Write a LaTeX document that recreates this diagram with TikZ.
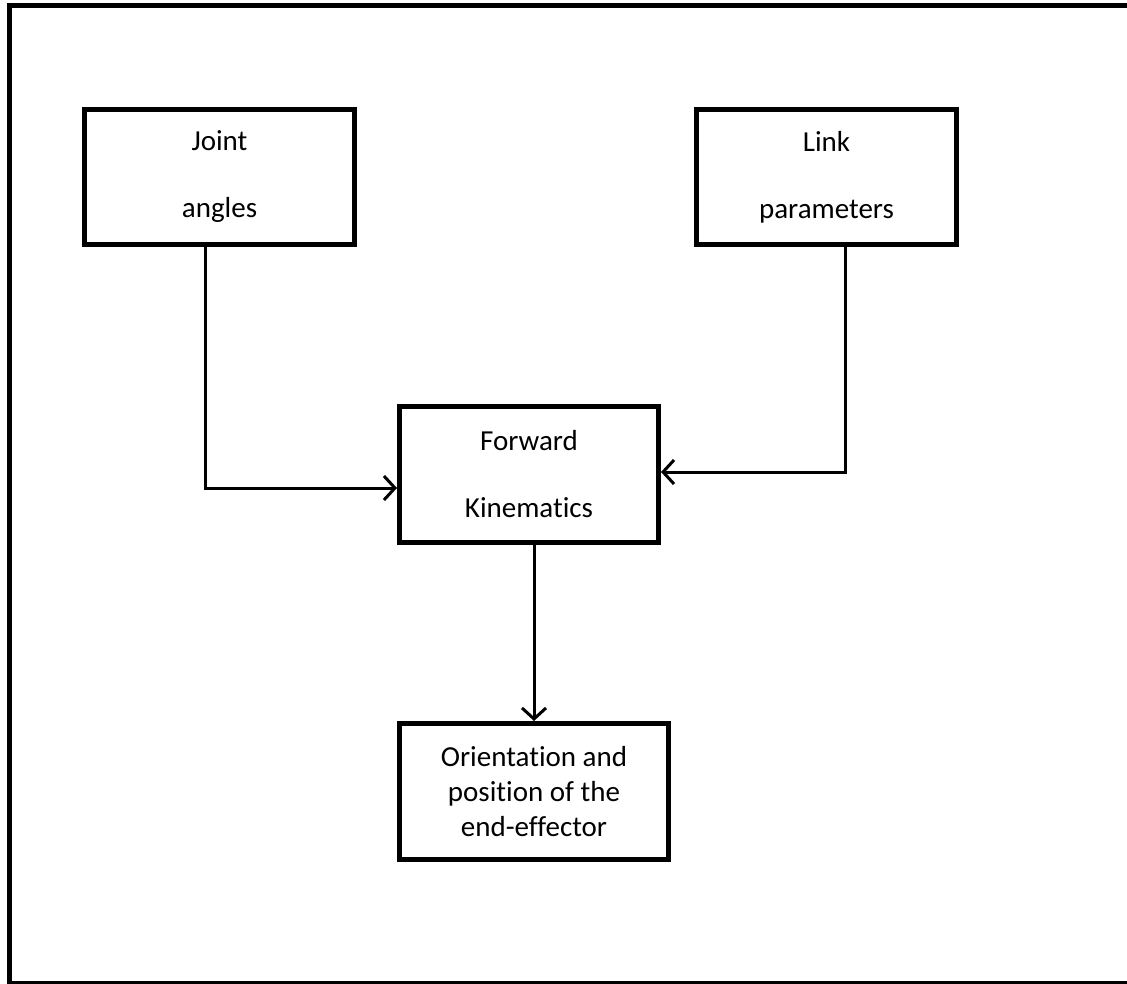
\documentclass[tikz,border=0pt]{standalone}
\usepackage{fontspec}
\setmainfont[Ligatures={NoCommon,NoRare,NoContextual}]{Carlito}
\usetikzlibrary{arrows.meta}
\begin{document}
\begin{tikzpicture}[x=1pt,y=-1pt,
  block/.style={draw=black, line width=5pt, align=center, inner sep=0pt},
  twoline/.style={block, font=\fontsize{29}{67}\selectfont},
  threeline/.style={block, font=\fontsize{29}{35}\selectfont},
  flow/.style={draw=black, line width=3pt,
    -{Straight Barb[length=11pt,width=24pt,line width=3pt]}}]
  \useasboundingbox (0,0) rectangle (1127,984);
  % outer frame (right side runs off the page)
  \draw[line width=5pt] (1140,5.5) -- (9.5,5.5) -- (9.5,983) -- (1140,983);

  \node[twoline, minimum width=270pt, minimum height=135pt] (joint) at (219.5,177) {Joint\\angles};
  \node[twoline, minimum width=260pt, minimum height=135pt] (link) at (826.5,177) {Link\\parameters};
  \node[twoline, minimum width=259pt, minimum height=136pt] (fk) at (529,474.5) {Forward\\Kinematics};
  \node[threeline, minimum width=269pt, minimum height=136pt] (pose) at (534,791.5)
    {Orientation and\\position of the\\end-effector};

  \draw[flow] ([xshift=-14.5pt]joint.south) |- ([yshift=-13.5pt]fk.west);
  \draw[flow] ([xshift=18.5pt]link.south) |- ([yshift=2.5pt]fk.east);
  \draw[flow] (fk.south -| pose.north) -- (pose.north);
\end{tikzpicture}
\end{document}
